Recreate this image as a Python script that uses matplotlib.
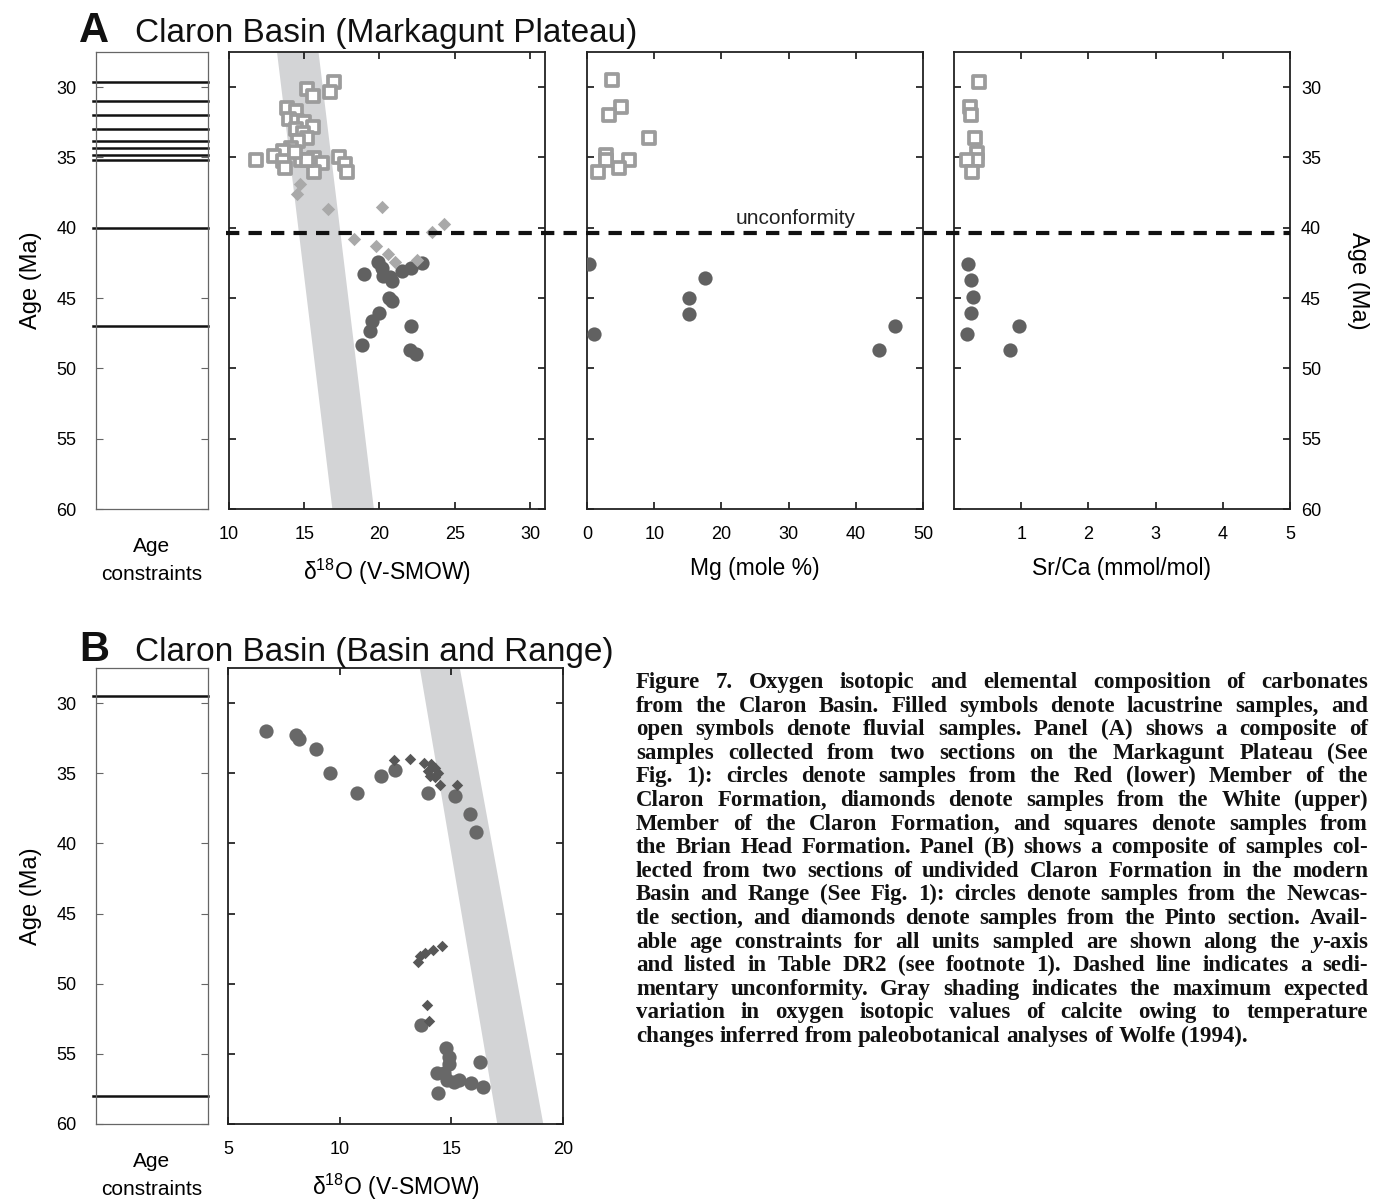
import matplotlib
matplotlib.use('Agg')
import matplotlib.pyplot as plt
from matplotlib.lines import Line2D

plt.rcParams['font.family'] = ['Liberation Sans', 'DejaVu Sans']
plt.rcParams['mathtext.fontset'] = 'custom'
plt.rcParams['mathtext.rm'] = 'Liberation Sans'
plt.rcParams['mathtext.it'] = 'Liberation Sans:italic'

# ---------------- data ----------------
# Panel A, delta18O
a_sq_d18 = [16.97, 15.2, 15.55, 16.7, 13.86, 14.45, 13.97, 14.5, 15.0, 15.55, 14.45, 14.9, 15.2, 14.56,
            14.1, 13.6, 13.0, 11.8, 13.57, 13.7, 14.78, 15.66, 16.2, 15.66, 17.3, 17.7, 17.85, 15.2, 14.4]
a_sq_d18_age = [29.6, 30.1, 30.6, 30.36, 31.5, 31.7, 32.3, 32.4, 32.5, 32.8, 33.0, 33.25, 33.6, 33.85,
                34.3, 34.55, 34.9, 35.15, 35.27, 35.74, 35.15, 35.03, 35.4, 36.0, 35.0, 35.5, 36.0, 35.15, 34.6]
a_dm_d18 = [14.74, 14.5, 16.6, 20.2, 24.3, 23.5, 18.3, 19.8, 20.55, 21.0, 22.5]
a_dm_d18_age = [36.9, 37.6, 38.7, 38.5, 39.7, 40.3, 40.77, 41.3, 41.9, 42.4, 42.3]
a_ci_d18 = [19.93, 20.2, 18.95, 20.26, 20.8, 21.47, 22.1, 22.85, 20.6, 20.8, 20.0, 19.5, 19.4, 22.08,
            18.86, 22.0, 22.4, 20.7]
a_ci_d18_age = [42.4, 42.86, 43.3, 43.45, 43.8, 43.1, 42.86, 42.5, 45.0, 45.23, 46.06, 46.65, 47.37, 47.0,
                48.36, 48.67, 49.0, 43.5]
# Panel A, Mg
a_sq_mg = [3.77, 5.0, 3.27, 9.2, 2.78, 2.78, 6.25, 4.76, 1.7]
a_sq_mg_age = [29.5, 31.4, 32.0, 33.6, 34.8, 35.2, 35.2, 35.74, 36.0]
a_ci_mg = [0.3, 17.5, 15.2, 15.2, 1.1, 45.9, 43.4]
a_ci_mg_age = [42.6, 43.6, 45.0, 46.1, 47.56, 46.96, 48.67]
# Panel A, Sr/Ca
a_sq_sr = [0.37, 0.24, 0.25, 0.31, 0.34, 0.34, 0.19, 0.27]
a_sq_sr_age = [29.6, 31.4, 32.0, 33.65, 34.7, 35.15, 35.15, 36.0]
a_ci_sr = [0.21, 0.26, 0.29, 0.25, 0.2, 0.97, 0.84]
a_ci_sr_age = [42.6, 43.7, 44.95, 46.06, 47.56, 47.0, 48.7]
# Panel B, delta18O
b_ci_d18 = [6.69, 8.03, 8.17, 8.94, 9.57, 10.78, 11.87, 12.48, 13.96, 15.15, 15.82, 16.12, 13.66,
            14.76, 14.9, 14.9, 14.35, 14.66, 14.8, 15.1, 15.33, 15.9, 16.3, 16.4, 14.4]
b_ci_d18_age = [32.0, 32.26, 32.57, 33.24, 34.95, 36.43, 35.19, 34.76, 36.43, 36.6, 37.88, 39.16, 52.93,
                54.6, 55.2, 55.7, 56.4, 56.36, 56.85, 57.0, 56.86, 57.1, 55.6, 57.35, 57.8]
b_dm_d18 = [12.42, 13.17, 13.76, 14.1, 14.26, 13.96, 14.4, 14.03, 14.26, 14.48, 15.27, 13.5, 13.58,
            13.8, 14.18, 14.56, 13.91, 14.0]
b_dm_d18_age = [34.05, 34.0, 34.24, 34.36, 34.6, 34.83, 34.95, 35.19, 35.3, 35.86, 35.86, 48.48, 48.05,
                47.8, 47.57, 47.33, 51.5, 52.64]
# Age constraints
a_constraints = [29.6, 31.0, 32.0, 33.0, 33.8, 34.3, 34.8, 35.2, 40.0, 47.0]
b_constraints = [29.5, 58.0]
unconformity_age = 40.4
# Expected-variation bands (age, left edge, right edge)
band_age = [27.5, 60.0]
a_band_left = [13.16, 16.84]
a_band_right = [15.92, 19.6]
b_band_left = [13.57, 17.04]
b_band_right = [15.36, 19.1]

age_ticks = [30, 35, 40, 45, 50, 55, 60]
a_d18_ticks = [10, 15, 20, 25, 30]
mg_ticks = [0, 10, 20, 30, 40, 50]
sr_ticks = [1, 2, 3, 4, 5]
b_d18_ticks = [5, 10, 15, 20]

caption_lines = [
    "Figure 7. Oxygen isotopic and elemental composition of carbonates",
    "from the Claron Basin. Filled symbols denote lacustrine samples, and",
    "open symbols denote fluvial samples. Panel (A) shows a composite of",
    "samples collected from two sections on the Markagunt Plateau (See",
    "Fig. 1): circles denote samples from the Red (lower) Member of the",
    "Claron Formation, diamonds denote samples from the White (upper)",
    "Member of the Claron Formation, and squares denote samples from",
    "the Brian Head Formation. Panel (B) shows a composite of samples col-",
    "lected from two sections of undivided Claron Formation in the modern",
    "Basin and Range (See Fig. 1): circles denote samples from the Newcas-",
    "tle section, and diamonds denote samples from the Pinto section. Avail-",
    "able age constraints for all units sampled are shown along the y-axis",
    "and listed in Table DR2 (see footnote 1). Dashed line indicates a sedi-",
    "mentary unconformity. Gray shading indicates the maximum expected",
    "variation in oxygen isotopic values of calcite owing to temperature",
    "changes inferred from paleobotanical analyses of Wolfe (1994).",
]

# ---------------- styles ----------------
W, H = 1388, 1201
fig = plt.figure(figsize=(W / 100, H / 100), dpi=100)

def rect(x0, y0, x1, y1):
    return [x0 / W, 1 - y1 / H, (x1 - x0) / W, (y1 - y0) / H]

SQ = dict(marker='s', s=80, facecolors='white', edgecolors='#9c9c9c', linewidths=2.7, zorder=3)
CI_A = dict(marker='o', s=105, color='#616161', linewidths=0, zorder=3)
DM_A = dict(marker='D', s=46, color='#a9a9a9', linewidths=0, zorder=4)
CI_B = dict(marker='o', s=105, color='#686868', linewidths=0, zorder=3)
DM_B = dict(marker='D', s=34, color='#575757', linewidths=0, zorder=4)
BAND = '#d3d4d6'
TICKFS = 13
LABFS = 16.5

def style_data_ax(ax):
    for s in ax.spines.values():
        s.set_linewidth(1.3)
        s.set_color('#222222')
    ax.tick_params(direction='in', length=5, width=1.1, top=True, right=True,
                   labelsize=TICKFS, pad=12)
    ax.set_ylim(60, 27.5)
    ax.set_yticks(age_ticks)
    ax.tick_params(axis='y', labelleft=False, labelright=False)

def style_age_box(ax, lines):
    for s in ax.spines.values():
        s.set_linewidth(0.9)
        s.set_color('#666666')
    ax.set_ylim(60, 27.5)
    ax.set_xlim(0, 1)
    ax.set_yticks(age_ticks)
    ax.set_xticks([])
    ax.tick_params(axis='y', direction='in', length=5, width=0.8, right=True, color='#666666',
                   labelsize=TICKFS, pad=14)
    for a in lines:
        ax.axhline(a, xmin=-0.03, xmax=1.0, color='#111111', lw=1.8, clip_on=False)
    ax.set_xlabel('Age\nconstraints', fontsize=15, labelpad=20, linespacing=1.6)
    ax.set_ylabel('Age (Ma)', fontsize=17, labelpad=10)

d18_label = r'δ$^{\mathregular{18}}$O (V-SMOW)'

# ---------------- Panel A ----------------
axA0 = fig.add_axes(rect(96, 52, 208, 509))
style_age_box(axA0, a_constraints)

axA1 = fig.add_axes(rect(229, 52, 545, 509))
style_data_ax(axA1)
axA1.set_xlim(10, 31)
axA1.set_xticks(a_d18_ticks)
axA1.fill_betweenx(band_age, a_band_left, a_band_right, color=BAND, lw=0, zorder=1)
axA1.scatter(a_sq_d18, a_sq_d18_age, **SQ)
axA1.scatter(a_ci_d18, a_ci_d18_age, **CI_A)
axA1.scatter(a_dm_d18, a_dm_d18_age, **DM_A)
axA1.set_xlabel(d18_label, fontsize=LABFS, labelpad=10)

axA2 = fig.add_axes(rect(587, 52, 923, 509))
style_data_ax(axA2)
axA2.set_xlim(0, 50)
axA2.set_xticks(mg_ticks)
axA2.scatter(a_sq_mg, a_sq_mg_age, **SQ)
axA2.scatter(a_ci_mg, a_ci_mg_age, **CI_A)
axA2.text(31, 39.75, 'unconformity', fontsize=15, ha='center', va='baseline', color='#222222')
axA2.set_xlabel('Mg (mole %)', fontsize=LABFS, labelpad=10)

axA3 = fig.add_axes(rect(954, 52, 1290, 509))
style_data_ax(axA3)
axA3.set_xlim(0, 5)
axA3.set_xticks(sr_ticks)
axA3.scatter(a_sq_sr, a_sq_sr_age, **SQ)
axA3.scatter(a_ci_sr, a_ci_sr_age, **CI_A)
axA3.tick_params(axis='y', labelright=True, pad=8)
axA3.yaxis.set_label_position('right')
axA3.set_ylabel('Age (Ma)', fontsize=17, rotation=270, labelpad=34)
axA3.set_xlabel('Sr/Ca (mmol/mol)', fontsize=LABFS, labelpad=10)

# dashed unconformity line across the three data panels
inv = fig.transFigure.inverted()
y_fig = inv.transform(axA1.transData.transform((15, unconformity_age)))[1]
x_start = axA1.get_position().x0 - 3 / W
x_end = axA3.get_position().x1
fig.add_artist(Line2D([x_start, x_end], [y_fig, y_fig], transform=fig.transFigure,
                      color='#111111', lw=3, dashes=(3.2, 2.2), zorder=10))

# ---------------- Panel B ----------------
axB0 = fig.add_axes(rect(96, 668, 208, 1124))
style_age_box(axB0, b_constraints)

axB1 = fig.add_axes(rect(228, 668, 563, 1124))
style_data_ax(axB1)
axB1.set_xlim(5, 20)
axB1.set_xticks(b_d18_ticks)
axB1.fill_betweenx(band_age, b_band_left, b_band_right, color=BAND, lw=0, zorder=1)
axB1.scatter(b_ci_d18, b_ci_d18_age, **CI_B)
axB1.scatter(b_dm_d18, b_dm_d18_age, **DM_B)
axB1.set_xlabel(d18_label, fontsize=LABFS, labelpad=10)

# ---------------- titles ----------------
for (ytop, letter, title) in [(42, 'A', 'Claron Basin (Markagunt Plateau)'),
                              (661, 'B', 'Claron Basin (Basin and Range)')]:
    fig.text(79 / W, 1 - ytop / H, letter, fontsize=30, fontweight='bold', va='baseline', color='#111111')
    fig.text(135 / W, 1 - ytop / H, title, fontsize=24, va='baseline', color='#111111')

# ---------------- caption (justified) ----------------
renderer = fig.canvas.get_renderer()
cap_x0, cap_x1 = 636, 1368
special = {"y-axis": [("y", 'italic'), ("-axis", 'normal')]}

def cap_kw(fs):
    return dict(family=['Liberation Serif', 'DejaVu Serif'], fontweight='bold', fontsize=fs,
                color='#111111', va='baseline', ha='left')

def measure(txt, fs, sty='normal'):
    t = fig.text(0, 0, txt, style=sty, **cap_kw(fs))
    w = t.get_window_extent(renderer=renderer).width
    t.remove()
    return w

def word_pieces(w):
    return special.get(w, [(w, 'normal')])

# choose font size so the longest line still fits with a minimal gap
CAP_FS = 16.5
while True:
    sp = measure('a a', CAP_FS) - measure('aa', CAP_FS)
    worst = 0
    for line in caption_lines:
        ws = line.split(' ')
        tot = sum(measure(p, CAP_FS, s) for w in ws for (p, s) in word_pieces(w))
        worst = max(worst, tot + (len(ws) - 1) * sp * 0.75)
    if worst <= (cap_x1 - cap_x0) or CAP_FS < 11:
        break
    CAP_FS -= 0.25

sp = measure('a a', CAP_FS) - measure('aa', CAP_FS)
for i, line in enumerate(caption_lines):
    base_y = 1 - (688 + i * 23.6) / H
    words = line.split(' ')
    wlist = []
    for w in words:
        pcs = word_pieces(w)
        widths = [measure(p, CAP_FS, s) for (p, s) in pcs]
        wlist.append((pcs, widths))
    total = sum(sum(ws) for _, ws in wlist)
    n = len(wlist)
    if i == len(caption_lines) - 1 or n < 2:
        gap = sp
    else:
        gap = (cap_x1 - cap_x0 - total) / (n - 1)
    x = cap_x0
    for pcs, widths in wlist:
        for (p, s), w in zip(pcs, widths):
            fig.text(x / W, base_y, p, style=s, **cap_kw(CAP_FS))
            x += w
        x += gap

fig.savefig('out.png', dpi=100)
